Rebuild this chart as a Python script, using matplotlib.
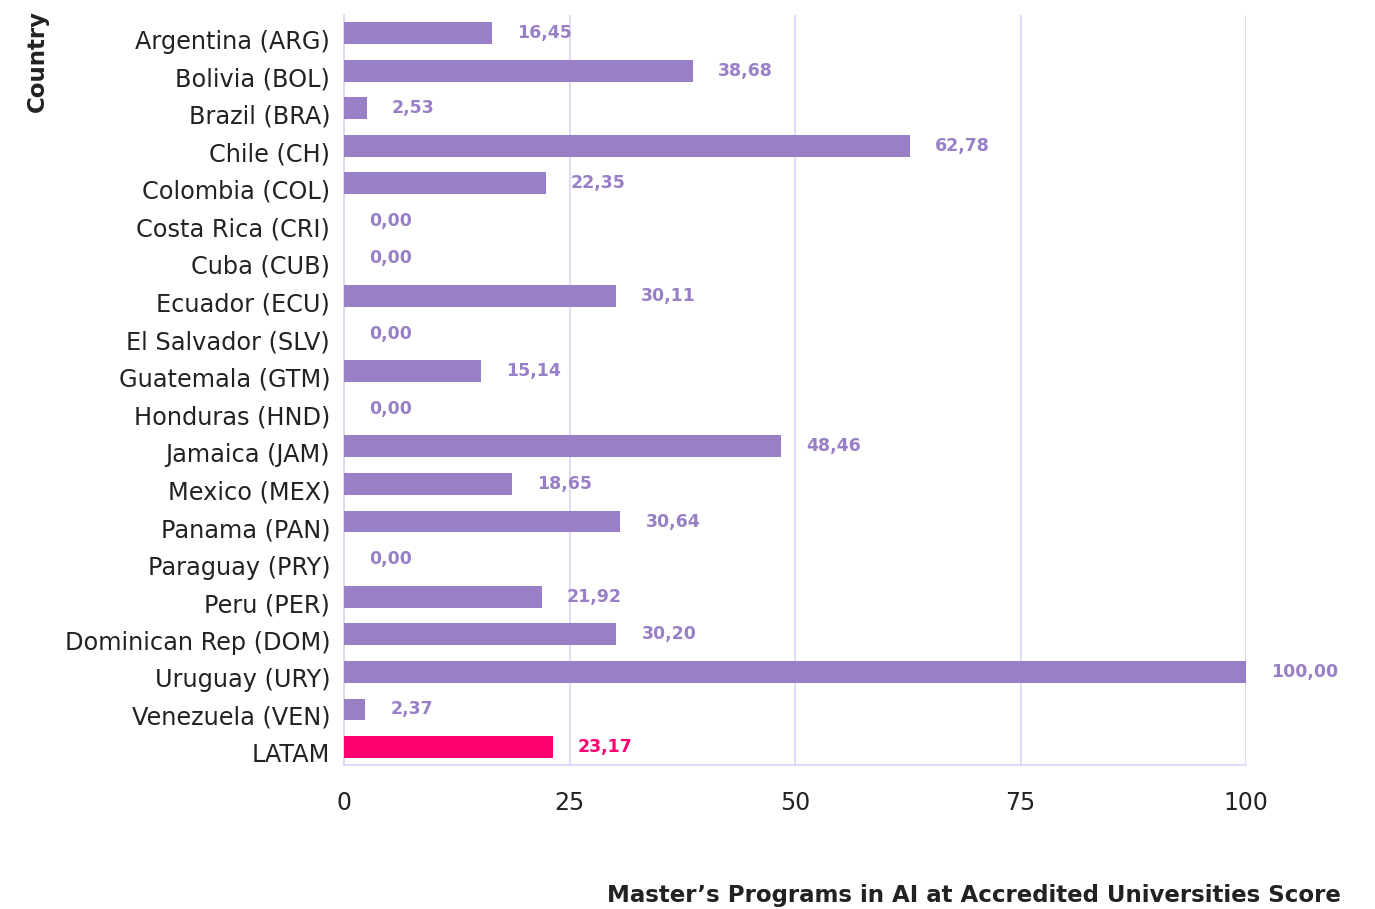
import matplotlib.pyplot as plt
import matplotlib.transforms as mtransforms

# Master's programs in AI score by country
countries = ['Argentina (ARG)', 'Bolivia (BOL)', 'Brazil (BRA)', 'Chile (CH)',
             'Colombia (COL)', 'Costa Rica (CRI)', 'Cuba (CUB)', 'Ecuador (ECU)',
             'El Salvador (SLV)', 'Guatemala (GTM)', 'Honduras (HND)',
             'Jamaica (JAM)', 'Mexico (MEX)', 'Panama (PAN)', 'Paraguay (PRY)',
             'Peru (PER)', 'Dominican Rep (DOM)', 'Uruguay (URY)',
             'Venezuela (VEN)', 'LATAM']
scores = [16.45, 38.68, 2.53, 62.78, 22.35, 0.00, 0.00, 30.11, 0.00, 15.14,
          0.00, 48.46, 18.65, 30.64, 0.00, 21.92, 30.20, 100.00, 2.37, 23.17]
xticks = [0, 25, 50, 75, 100]

purple = '#9980C6'
pink = '#FF0071'
grid_col = '#DCD4F8'
text_col = '#222222'

plt.rcParams['font.family'] = ['DejaVu Sans']

fig = plt.figure(figsize=(13.75, 9.09), dpi=100)
ax = fig.add_axes([0.2502, 0.1584, 0.6560, 0.8251])

colors = [pink if c == 'LATAM' else purple for c in countries]
ypos = list(range(len(countries)))
ax.barh(ypos, scores, height=0.58, color=colors, zorder=3)

for y, v, c in zip(ypos, scores, colors):
    ax.annotate('{:.2f}'.format(v).replace('.', ','), xy=(v, y),
                xytext=(25, 0), textcoords='offset pixels',
                ha='left', va='center', fontsize=12.5, fontweight='bold', color=c)

ax.set_xlim(0, 100)
ax.set_ylim(len(countries) - 0.52, -0.48)
ax.set_yticks(ypos)
ax.set_yticklabels(countries, fontsize=17.3, color=text_col)
ax.set_xticks(xticks)
ax.set_xticklabels([str(t) for t in xticks], fontsize=17, color=text_col)
ax.tick_params(axis='y', length=0, pad=10)
ax.tick_params(axis='x', length=0, pad=19)

# push the country labels a little below the bar centre, as in the original
shift = mtransforms.ScaledTranslation(0, -6 / 100, fig.dpi_scale_trans)
for lbl in ax.get_yticklabels():
    lbl.set_transform(lbl.get_transform() + shift)

ax.grid(axis='x', color=grid_col, linewidth=1.2, zorder=0)
for s in ['top', 'right']:
    ax.spines[s].set_visible(False)
for s in ['left', 'bottom']:
    ax.spines[s].set_color(grid_col)
    ax.spines[s].set_linewidth(1.2)

fig.text(0.9753, 0.002, "Master\u2019s Programs in AI at Accredited Universities Score",
         ha='right', va='bottom', fontsize=16.5, fontweight='bold', color=text_col)
fig.text(0.027, 0.989, 'Country', rotation=90, ha='center', va='top',
         fontsize=16.5, fontweight='bold', color=text_col)

plt.savefig('out.png', dpi=100)
